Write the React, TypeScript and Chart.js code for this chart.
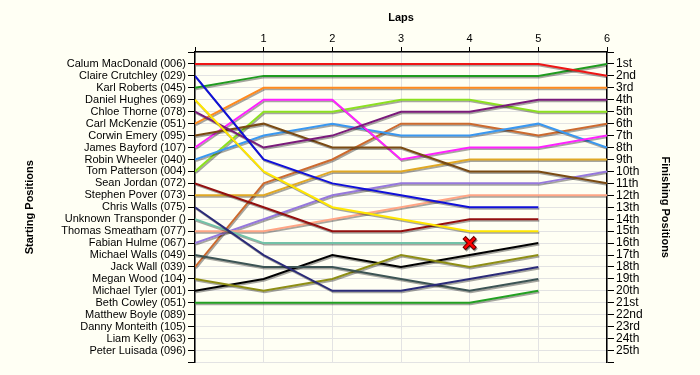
import React, { useEffect, useRef } from "react";
import { Chart, registerables } from "chart.js";

Chart.register(...registerables);

const laps = [0, 1, 2, 3, 4, 5, 6];

const startingNames = [
  "Calum MacDonald (006)",
  "Claire Crutchley (029)",
  "Karl Roberts (045)",
  "Daniel Hughes (069)",
  "Chloe Thorne (078)",
  "Carl McKenzie (051)",
  "Corwin Emery (095)",
  "James Bayford (107)",
  "Robin Wheeler (040)",
  "Tom Patterson (004)",
  "Sean Jordan (072)",
  "Stephen Pover (073)",
  "Chris Walls (075)",
  "Unknown Transponder ()",
  "Thomas Smeatham (077)",
  "Fabian Hulme (067)",
  "Michael Walls (049)",
  "Jack Wall (039)",
  "Megan Wood (104)",
  "Michael Tyler (001)",
  "Beth Cowley (051)",
  "Matthew Boyle (089)",
  "Danny Monteith (105)",
  "Liam Kelly (063)",
  "Peter Luisada (096)",
];

const finishingLabels = [
  "1st", "2nd", "3rd", "4th", "5th", "6th", "7th", "8th", "9th", "10th",
  "11th", "12th", "13th", "14th", "15th", "16th", "17th", "18th", "19th", "20th",
  "21st", "22nd", "23rd", "24th", "25th",
];

// positions by lap (lap 0 .. lap 6), null = no data
const calumMacDonald = [1, 1, 1, 1, 1, 1, 2];
const claireCrutchley = [2, 9, 11, 12, 13, 13, null];
const karlRoberts = [3, 2, 2, 2, 2, 2, 1];
const danielHughes = [4, 10, 13, 14, 15, 15, null];
const chloeThorne = [5, 8, 7, 5, 5, 4, 4];
const carlMcKenzie = [6, 3, 3, 3, 3, 3, 3];
const corwinEmery = [7, 6, 8, 8, 10, 10, 11];
const jamesBayford = [8, 4, 4, 9, 8, 8, 7];
const robinWheeler = [9, 7, 6, 7, 7, 6, 8];
const tomPatterson = [10, 5, 5, 4, 4, 5, 5];
const seanJordan = [11, 13, 15, 15, 14, 14, null];
const stephenPover = [12, 12, 10, 10, 9, 9, 9];
const chrisWalls = [13, 17, 20, 20, 19, 18, null];
const unknownTransponder = [14, 16, 16, 16, 16, null, null];
const thomasSmeatham = [15, 15, 14, 13, 12, 12, 12];
const fabianHulme = [16, 14, 12, 11, 11, 11, 10];
const michaelWalls = [17, 18, 18, 19, 20, 19, null];
const jackWall = [18, 11, 9, 6, 6, 7, 6];
const meganWood = [19, 20, 19, 17, 18, 17, null];
const michaelTyler = [20, 19, 17, 18, 17, 16, null];
const bethCowley = [21, 21, 21, 21, 21, 20, null];

// retirement marker (lap, position)
const retiredLap = [4];
const retiredPosition = [16];

const seriesData = [
  calumMacDonald, claireCrutchley, karlRoberts, danielHughes, chloeThorne,
  carlMcKenzie, corwinEmery, jamesBayford, robinWheeler, tomPatterson,
  seanJordan, stephenPover, chrisWalls, unknownTransponder, thomasSmeatham,
  fabianHulme, michaelWalls, jackWall, meganWood, michaelTyler, bethCowley,
];

const seriesColors = [
  "#EE1515", "#1010D8", "#1F9B1F", "#FFE600", "#7A1A7A",
  "#FF8A1E", "#7A4A12", "#FF22FF", "#3A98F0", "#8CE020",
  "#930F0F", "#E0A824", "#2B2B78", "#72C2A8", "#FFA585",
  "#9678DC", "#3C5454", "#CC6A2E", "#8E8E14", "#000000", "#22A022",
];

const FONT = "'Liberation Sans', Arial, sans-serif";

const shadowPlugin = {
  id: "lineShadow",
  beforeDatasetDraw(chart: any) {
    const ctx = chart.ctx;
    ctx.save();
    ctx.shadowColor = "rgba(0,0,0,0.35)";
    ctx.shadowOffsetX = 1;
    ctx.shadowOffsetY = 1.5;
    ctx.shadowBlur = 0;
  },
  afterDatasetDraw(chart: any) {
    chart.ctx.restore();
  },
};

export default function App() {
  const ref = useRef<HTMLCanvasElement | null>(null);

  useEffect(() => {
    if (!ref.current) return;
    const datasets: any[] = seriesData.map((arr, i) => ({
      label: startingNames[i],
      data: laps.map((lap, j) => ({ x: lap, y: arr[j] === undefined ? null : arr[j] })),
      borderColor: seriesColors[i],
      backgroundColor: seriesColors[i],
      borderWidth: 2,
      pointRadius: 0,
      pointHoverRadius: 0,
      tension: 0,
      fill: false,
      spanGaps: false,
      yAxisID: "y",
    }));
    datasets.push({
      label: "retired-outline",
      data: retiredLap.map((l, i) => ({ x: l, y: retiredPosition[i] })),
      showLine: false,
      pointStyle: "crossRot",
      pointRadius: 8,
      pointBorderWidth: 4.5,
      pointBorderColor: "#6a0000",
      pointBackgroundColor: "#6a0000",
      order: -1,
      yAxisID: "y",
    });
    datasets.push({
      label: "retired",
      data: retiredLap.map((l, i) => ({ x: l, y: retiredPosition[i] })),
      showLine: false,
      pointStyle: "crossRot",
      pointRadius: 7,
      pointBorderWidth: 2.5,
      pointBorderColor: "#FF0000",
      pointBackgroundColor: "#FF0000",
      order: -2,
      yAxisID: "y",
    });

    const chart = new Chart(ref.current, {
      type: "line",
      data: { datasets },
      plugins: [shadowPlugin],
      options: {
        animation: false,
        responsive: false,
        maintainAspectRatio: false,
        devicePixelRatio: 1,
        layout: { padding: { left: 19, right: 24, top: 7, bottom: 12 } },
        plugins: {
          legend: { display: false },
          tooltip: { enabled: false },
          title: { display: false },
        },
        scales: {
          x: {
            type: "linear",
            position: "top",
            min: 0,
            max: 6,
            afterFit: (s: any) => { s.height = 45; },
            ticks: {
              stepSize: 1,
              padding: 1,
              autoSkip: false,
              maxRotation: 0,
              color: "#000",
              font: { family: FONT, size: 11 },
              callback: (v: any) => (v === 0 ? "" : String(v)),
            },
            grid: { color: "#E3E3E3", tickColor: "#000", tickLength: 5, lineWidth: 1 },
            border: { color: "#000", width: 1.5 },
            title: {
              display: true,
              text: "Laps",
              color: "#000",
              font: { family: FONT, size: 11, weight: "bold" },
            },
          },
          y: {
            type: "linear",
            position: "left",
            min: 0,
            max: 26,
            reverse: true,
            afterFit: (s: any) => { s.width = 176; },
            ticks: {
              stepSize: 1,
              padding: 2,
              autoSkip: false,
              color: "#000",
              font: { family: FONT, size: 11 },
              callback: (v: any) => startingNames[v - 1] || "",
            },
            grid: { color: "#E3E3E3", tickColor: "#000", tickLength: 7, lineWidth: 1 },
            border: { color: "#000", width: 1.5 },
            title: {
              display: true,
              text: "Starting Positions",
              color: "#000",
              font: { family: FONT, size: 11, weight: "bold" },
            },
          },
          y2: {
            type: "linear",
            position: "right",
            min: 0,
            max: 26,
            reverse: true,
            afterFit: (s: any) => { s.width = 69; },
            ticks: {
              stepSize: 1,
              padding: 2,
              autoSkip: false,
              color: "#000",
              font: { family: FONT, size: 12 },
              callback: (v: any) => finishingLabels[v - 1] || "",
            },
            grid: { drawOnChartArea: false, tickColor: "#000", tickLength: 7 },
            border: { color: "#000", width: 1.5 },
            title: {
              display: true,
              text: "Finishing Positions",
              color: "#000",
              font: { family: FONT, size: 11, weight: "bold" },
            },
          },
        },
      } as any,
    });
    return () => chart.destroy();
  }, []);

  return (
    <div
      style={{
        position: "fixed",
        left: 0,
        top: 0,
        width: 700,
        height: 375,
        background: "#FFFFF4",
      }}
    >
      <canvas ref={ref} width={700} height={375} style={{ width: 700, height: 375, display: "block" }} />
    </div>
  );
}
